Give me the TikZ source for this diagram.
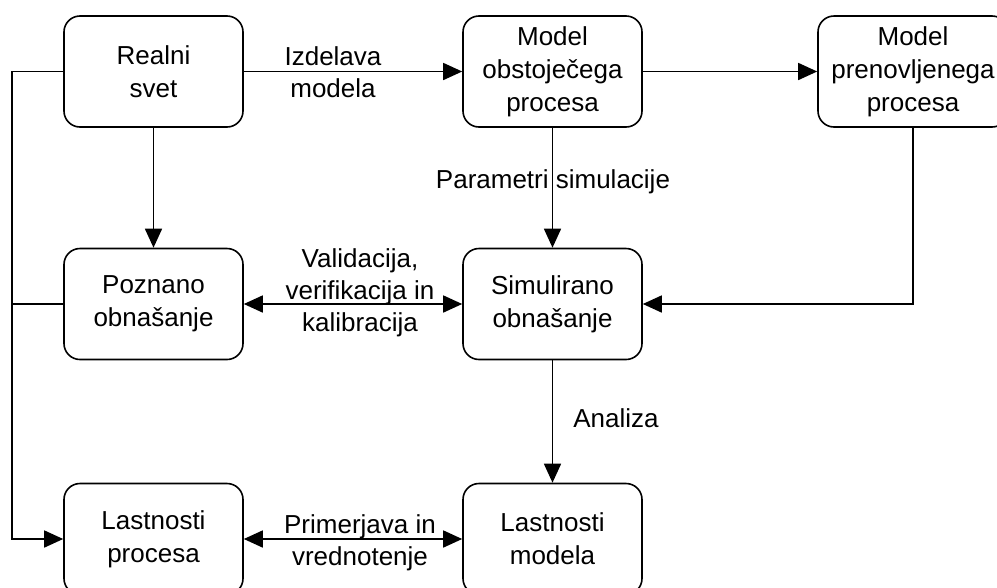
\documentclass[tikz,border=0pt]{standalone}
\usepackage{fontspec}
\setmainfont{Liberation Sans}
\usetikzlibrary{arrows.meta}
\begin{document}
\begin{tikzpicture}[x=1pt,y=-1pt,
  box/.style={draw, line width=1.6pt, rounded corners=16pt, minimum width=179pt, minimum height=111pt, align=center, inner sep=0pt, font=\fontsize{26}{33}\selectfont},
  lbl/.style={align=center, anchor=base, font=\fontsize{26}{32}\selectfont, inner sep=0pt},
  conn/.style={line width=1.6pt, -{Triangle[length=19pt,width=17pt]}},
  bconn/.style={line width=1.6pt, {Triangle[length=19pt,width=17pt]}-{Triangle[length=19pt,width=17pt]}},
  plain/.style={line width=1.6pt},
]
\useasboundingbox (0,0) rectangle (997,587);
\clip (0,0) rectangle (997,587);
% boxes
\node[box] (rs) at (153.5,71.5) {Realni\\svet};
\node[box] (mo) at (552.5,71.5) {Model\\obstoječega\\procesa};
\node[box, minimum width=190pt] (mp) at (913,71.5) {Model\\prenovljenega\\procesa};
\node[box] (po) at (153.5,304) {Poznano\\obnašanje};
\node[box] (so) at (552.5,304) {Simulirano\\obnašanje};
\node[box] (lp) at (153.5,539) {Lastnosti\\procesa};
\node[box] (lm) at (552.5,539) {Lastnosti\\modela};
% helper coordinates
\coordinate (c1) at (12,71.5);
\coordinate (c2) at (12,539);
\coordinate (c3) at (12,304);
\coordinate (c4) at (913,304);
% connectors
\draw[conn] (rs) -- (mo);
\draw[conn] (mo) -- (mp);
\draw[conn] (rs) -- (po);
\draw[conn] (mo) -- (so);
\draw[conn] (so) -- (lm);
\draw[bconn] (po) -- (so);
\draw[bconn] (lp) -- (lm);
\draw[conn] (mp.south) -- (c4) -- (so.east);
\draw[conn] (rs.west) -- (c1) -- (c2) -- (lp.west);
\draw[plain] (po.west) -- (c3);
% labels
\node[lbl] (l1) at (333,97) {Izdelava\\modela};
\node[lbl] (l2) at (553,188) {Parametri simulacije};
\node[lbl] (l3) at (360,331) {Validacija,\\verifikacija in\\kalibracija};
\node[lbl] (l4) at (616,427) {Analiza};
\node[lbl] (l5) at (360,565) {Primerjava in\\vrednotenje};
\end{tikzpicture}
\end{document}
